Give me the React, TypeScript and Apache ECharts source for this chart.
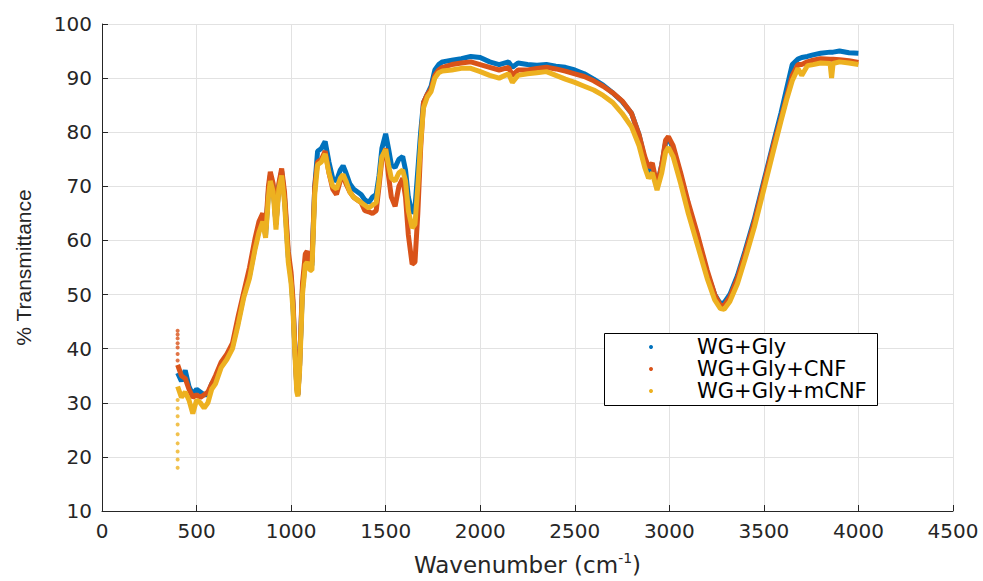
import React, { useEffect, useRef } from "react";
import * as echarts from "echarts";

const wavenumbers = [400, 420, 440, 460, 480, 500, 520, 540, 560, 580, 600, 630, 660, 690, 720, 750, 780, 810, 830, 850, 865, 880, 890, 905, 920, 935, 950, 965, 985, 1000, 1010, 1020, 1030, 1036, 1045, 1060, 1075, 1085, 1100, 1110, 1125, 1140, 1160, 1180, 1200, 1220, 1240, 1260, 1275, 1290, 1310, 1330, 1350, 1370, 1390, 1410, 1430, 1450, 1465, 1480, 1500, 1515, 1530, 1550, 1570, 1590, 1605, 1620, 1640, 1655, 1670, 1685, 1700, 1720, 1740, 1760, 1780, 1800, 1850, 1900, 1950, 2000, 2050, 2100, 2150, 2170, 2200, 2250, 2300, 2350, 2400, 2450, 2500, 2550, 2600, 2650, 2700, 2750, 2800, 2840, 2870, 2890, 2910, 2935, 2960, 2980, 2995, 3020, 3060, 3100, 3150, 3200, 3240, 3270, 3290, 3320, 3360, 3400, 3450, 3500, 3550, 3590, 3620, 3650, 3680, 3700, 3730, 3760, 3800, 3850, 3858, 3866, 3900, 3950, 4000];

const wgGly = [35.5, 34, 36, 33, 31.5, 32.5, 32, 31.5, 31.5, 33.5, 34.5, 37, 38.5, 40.5, 45, 50, 53.5, 59, 62, 64, 61, 69, 72, 70, 63, 70, 72.8, 68, 57, 53, 48, 40, 33, 31.5, 37, 51, 56, 56.5, 55, 55.5, 70, 76.5, 77, 78.3, 74.5, 71.5, 71, 73, 73.8, 72.5, 70.5, 69.5, 69, 68.5, 67.5, 67, 68, 68.5, 72, 77, 79.7, 77, 74, 73.5, 75, 75.5, 73, 68, 65, 66, 73, 80, 85.5, 87, 88.5, 91.5, 92.5, 93, 93.3, 93.6, 94, 93.8, 93, 92.5, 93, 92, 92.8, 92.5, 92.4, 92.5, 92.2, 92, 91.5, 90.8, 89.8, 88.7, 87.3, 85.7, 83.5, 79.5, 75, 72.5, 73.5, 70, 74, 78, 79, 77, 72, 66.5, 60.5, 54, 50, 48.3, 48.5, 50, 53.5, 58, 64, 71, 78, 83.5, 88, 92.5, 93.5, 93.8, 94, 94.3, 94.6, 94.8, 94.8, 94.8, 95, 94.7, 94.6];

const wgGlyCnf = [37, 35, 34.5, 32.5, 31, 31.5, 31, 31.5, 32, 33.5, 35, 37.5, 39, 41, 46, 50.5, 55, 60.5, 63.5, 65, 62, 70, 72.7, 70.5, 63, 70.5, 73.3, 69, 58, 54, 49, 40, 33, 31.5, 37, 52, 57.5, 58, 56, 56, 70, 74.5, 75, 76.5, 72.5, 69.5, 68.5, 71, 72, 70.5, 69, 68, 67.5, 67, 65.5, 65.3, 65, 65.5, 70, 75, 77, 72, 68, 66.3, 70, 71.5, 68, 61, 55.6, 56, 65, 77, 85.5, 87, 88, 90.5, 91.5, 92, 92.5, 92.8, 93, 92.5, 92, 91.5, 92, 90.5, 91.5, 91.5, 91.8, 92, 91.7, 91.3, 90.8, 90.3, 89.5, 88.5, 87.3, 85.8, 83.5, 79.5, 75.5, 73.5, 74.3, 70, 74, 78.5, 79.2, 77.5, 72.5, 67, 61, 54.5, 50, 48, 48, 49.5, 53, 57.5, 63.5, 70.5, 77.5, 82.5, 86.5, 90.5, 92.5, 92.5, 93, 93.3, 93.6, 93.5, 93.5, 93.5, 93.4, 93.2, 92.9];

const wgGlyMcnf = [33, 31, 32, 30.5, 28, 30.5, 30, 29, 30, 32.5, 33.5, 36.5, 38, 40, 44.5, 49.5, 53, 58.5, 61.5, 63.5, 60.5, 68, 71, 69, 62, 69.5, 72, 67, 56, 52, 47, 39, 32, 31.2, 36, 50, 55.5, 56, 54.5, 54.5, 68.5, 74, 74.5, 76, 72.5, 70, 69.5, 71.5, 72.2, 71, 69, 68, 67.5, 67, 66.5, 66, 66.5, 67, 71, 75.5, 76.8, 74, 71.5, 71, 72.5, 73, 71, 65.5, 62.3, 63, 70, 78, 84.5, 86.5, 87.5, 90, 91, 91.3, 91.5, 91.8, 91.8, 91.2, 90.5, 90, 90.8, 89.2, 90.5, 90.8, 91, 91.2, 90.5, 89.8, 89.2, 88.5, 87.8, 86.8, 85.5, 83.5, 81, 77.5, 73.5, 71.5, 72.5, 69.3, 72.5, 76.3, 77.2, 75.5, 70.5, 65, 59, 53, 49, 47.4, 47.3, 48.7, 52, 56.5, 62.5, 69.5, 76.5, 82, 86, 89.5, 91.8, 90.5, 92.3, 92.5, 92.8, 92.7, 90, 92.7, 93, 92.8, 92.5];

// isolated readings at the start of the scan (400 cm-1)
const startX = 400;
const cnfStartDots = [43.3, 42.6, 41.9, 41, 40.2, 39, 37.8];
const mcnfStartDots = [30.5, 29, 27.5, 26, 24.2, 22.5, 21, 19.5, 18];

const seriesNames = ["WG+Gly", "WG+Gly+CNF", "WG+Gly+mCNF"];
const colors = ["#0072BD", "#D95319", "#EDB120"];
const xTicks = { min: 0, max: 4500, interval: 500 };
const yTicks = { min: 10, max: 100, interval: 10 };

const FONT = "DejaVu Sans";

export default function App() {
  const ref = useRef<HTMLDivElement>(null);
  useEffect(() => {
    if (!ref.current) return;
    const chart = echarts.init(ref.current, undefined, { renderer: "svg" });
    const values = [wgGly, wgGlyCnf, wgGlyMcnf];
    const lineSeries = values.map((vals, i) => ({
      name: seriesNames[i],
      type: "line",
      data: wavenumbers.map((x, j) => [x, vals[j]]),
      showSymbol: false,
      symbol: "circle",
      lineStyle: { color: colors[i], width: 5 },
      itemStyle: { color: colors[i] },
      z: 2 + i,
    }));
    const plain = (v: number) => String(v);
    chart.setOption({
      animation: false,
      backgroundColor: "#ffffff",
      grid: { left: 102, top: 24, width: 851, height: 492 },
      xAxis: {
        type: "value",
        ...xTicks,
        name: "Wavenumber (cm{sup|-1})",
        nameLocation: "middle",
        nameGap: 40,
        nameTextStyle: {
          fontFamily: FONT,
          fontSize: 23,
          color: "#262626",
          rich: { sup: { fontFamily: FONT, fontSize: 14, verticalAlign: "top", padding: [0, 0, 13, 0], color: "#262626" } },
        },
        axisLine: { show: true, onZero: false, lineStyle: { color: "#262626", width: 1 } },
        axisTick: { show: true, inside: true, length: 6, lineStyle: { color: "#262626" } },
        axisLabel: { fontFamily: FONT, fontSize: 20, color: "#262626", margin: 10, formatter: plain },
        splitLine: { show: true, lineStyle: { color: "#e2e2e2", width: 1 } },
      },
      yAxis: {
        type: "value",
        ...yTicks,
        name: "% Transmittance",
        nameLocation: "middle",
        nameGap: 68,
        nameTextStyle: { fontFamily: "Liberation Sans", fontSize: 21, color: "#262626" },
        axisLine: { show: true, onZero: false, lineStyle: { color: "#262626", width: 1 } },
        axisTick: { show: true, inside: true, length: 6, lineStyle: { color: "#262626" } },
        axisLabel: { fontFamily: FONT, fontSize: 20, color: "#262626", margin: 10, formatter: plain },
        splitLine: { show: true, lineStyle: { color: "#e2e2e2", width: 1 } },
      },
      legend: {
        orient: "vertical",
        left: 649,
        top: 336,
        padding: 0,
        itemGap: 0,
        icon: "circle",
        itemWidth: 4,
        itemHeight: 4,
        z: 100,
        data: seriesNames,
        textStyle: { fontFamily: FONT, fontSize: 21, color: "#000", lineHeight: 22, padding: [0, 0, 0, 39] },
      },
      graphic: [
        {
          type: "rect",
          left: 604,
          top: 333,
          shape: { width: 273, height: 72 },
          style: { fill: "#ffffff", stroke: "#000", lineWidth: 1 },
          z: 50,
        },
      ],
      series: [
        ...lineSeries,
        {
          name: "cnf-start",
          type: "scatter",
          data: cnfStartDots.map((v) => [startX, v]),
          symbolSize: 4,
          itemStyle: { color: colors[1] },
          z: 3,
        },
        {
          name: "mcnf-start",
          type: "scatter",
          data: mcnfStartDots.map((v) => [startX, v]),
          symbolSize: 4,
          itemStyle: { color: colors[2] },
          z: 4,
        },
      ],
    } as any);
    return () => chart.dispose();
  }, []);
  return <div ref={ref} style={{ position: "fixed", left: 0, top: 0, width: 983, height: 581 }} />;
}
